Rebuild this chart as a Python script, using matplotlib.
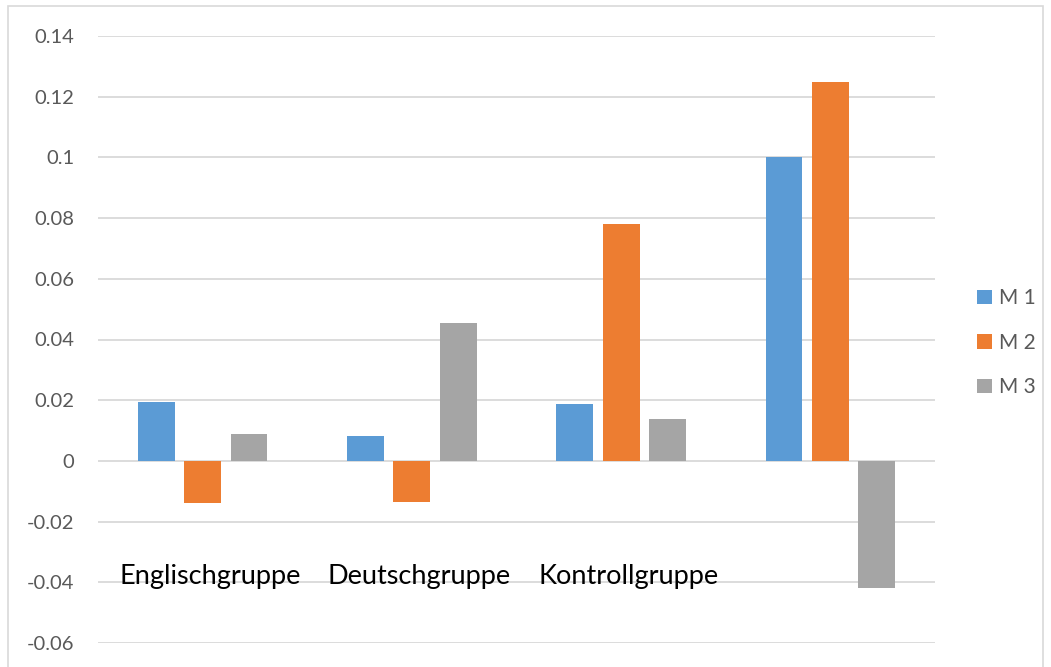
import matplotlib
matplotlib.use("Agg")
import matplotlib.pyplot as plt
import numpy as np
from matplotlib.patches import Rectangle

categories = ["Englischgruppe", "Deutschgruppe", "Kontrollgruppe", ""]
series_names = ["M 1", "M 2", "M 3"]
m1 = [0.0195, 0.0083, 0.0186, 0.100]
m2 = [-0.0138, -0.0135, 0.078, 0.125]
m3 = [0.0087, 0.0456, 0.0139, -0.0418]
yticks = [-0.06, -0.04, -0.02, 0, 0.02, 0.04, 0.06, 0.08, 0.1, 0.12, 0.14]
ytick_labels = ["-0.06", "-0.04", "-0.02", "0", "0.02", "0.04", "0.06", "0.08", "0.1", "0.12", "0.14"]

colors = ["#5B9BD5", "#ED7D31", "#A5A5A5"]

plt.rcParams['font.family'] = ['Lato', 'DejaVu Sans']

fig = plt.figure(figsize=(10.51, 6.67), dpi=100)
ax = fig.add_axes([98/1051, 1-643/667, 837/1051, 607/667])

x = np.arange(len(categories))
w = 0.176
step = 0.222
handles = []
for i, (vals, c) in enumerate(zip([m1, m2, m3], colors)):
    b = ax.bar(x + (i-1)*step, vals, width=w, color=c, edgecolor='none', zorder=3, label=series_names[i])
    handles.append(b)

ax.set_xlim(-0.5, 3.5)
ax.set_ylim(-0.06, 0.14)
ax.set_yticks(yticks)
ax.set_yticklabels(ytick_labels)
ax.tick_params(axis='y', length=0, pad=17, labelsize=14.5, labelcolor='#595959')
ax.set_xticks([])
ax.grid(axis='y', color='#D9D9D9', linewidth=1.3, zorder=0)
for s in ax.spines.values():
    s.set_visible(False)

for xi, lab in zip(x, categories):
    if lab:
        ax.text(xi + 0.035, -0.038, lab, ha='center', va='center', fontsize=19.5, color='black', zorder=4)

leg = fig.legend(handles=handles, labels=series_names, loc='center left',
                 bbox_to_anchor=(0.912, 0.486), frameon=False, fontsize=15,
                 handlelength=0.7, handleheight=0.7, handletextpad=0.35,
                 labelspacing=1.17, labelcolor='#595959')

fig.patches.append(Rectangle((8/1051, -0.05), 1035/1051, 1.05 - 6/667, transform=fig.transFigure,
                             fill=False, edgecolor='#D9D9D9', linewidth=1.2))

fig.savefig("out.png", dpi=100)
